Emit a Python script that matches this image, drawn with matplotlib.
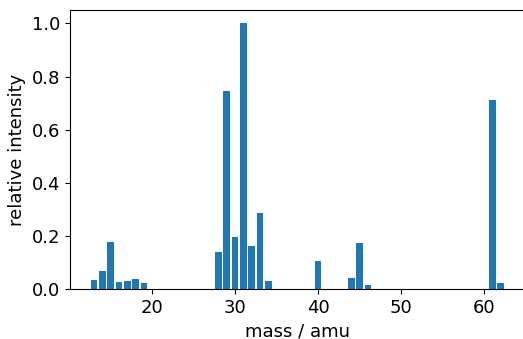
import matplotlib
matplotlib.use("Agg")
import matplotlib.pyplot as plt

# mass spectrum peaks
masses = [13, 14, 15, 16, 17, 18, 19,
          28, 29, 30, 31, 32, 33, 34,
          40, 44, 45, 46, 61, 62]
intensity = [0.034, 0.066, 0.178, 0.025, 0.031, 0.039, 0.023,
             0.138, 0.745, 0.197, 1.0, 0.162, 0.287, 0.031,
             0.106, 0.042, 0.173, 0.016, 0.71, 0.024]

plt.rcParams['font.size'] = 13
fig = plt.figure(figsize=(5.23, 3.39), dpi=100)
ax = fig.add_subplot(111)
ax.bar(masses, intensity, color='#1f77b4')
ax.set_xlabel('mass / amu')
ax.set_ylabel('relative intensity')
# right spine falls just outside the picture, as in the original crop
fig.subplots_adjust(left=0.134, right=1.003, top=0.970, bottom=0.1475)
fig.savefig("out.png", dpi=100)
